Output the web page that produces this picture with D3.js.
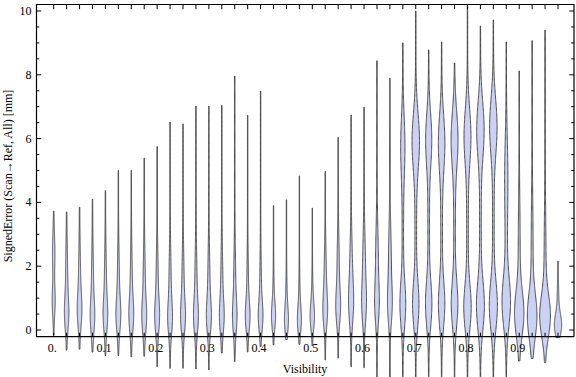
<!DOCTYPE html>
<html><head><meta charset="utf-8">
<script src="https://cdn.jsdelivr.net/npm/d3@7"></script>
<style>body{margin:0;background:#fff}svg{display:block}text{font-family:"Liberation Serif","Times New Roman",serif;fill:#000}</style>
</head><body><svg id="c" width="576" height="377"></svg>
<script>
// categories: visibility bins
const visibility = [0,0.025,0.05,0.075,0.1,0.125,0.15,0.175,0.2,0.225,0.25,0.275,0.3,0.325,0.35,0.375,0.4,0.425,0.45,0.475,0.5,0.525,0.55,0.575,0.6,0.625,0.65,0.675,0.7,0.725,0.75,0.775,0.8,0.825,0.85,0.875,0.9,0.925,0.95,0.975];
// range of each distribution (min / max signed error, mm)
const minVals = [-0.15,-0.63,-0.6,-0.69,-0.8,-0.8,-0.84,-0.82,-1.15,-1.2,-1.2,-1.22,-1.25,-0.72,-0.99,-0.69,-0.52,-0.47,-0.3,-0.45,-0.5,-0.94,-0.88,-1.15,-1.18,-1.6,-1.6,-1.6,-1.6,-1.6,-1.6,-1.6,-1.6,-1.6,-1.6,-1.6,-0.97,-0.89,-1.02,-0.24];
const maxVals = [3.73,3.7,3.85,4.1,4.37,5.0,5.0,5.39,5.75,6.52,6.46,7.02,7.02,7.04,7.96,6.73,7.49,3.9,4.08,4.83,3.82,4.97,6.04,6.74,6.98,8.44,7.89,9.0,10.0,8.78,9.03,8.37,10.17,9.53,9.72,9.03,8.12,9.07,9.4,2.16];
// lower density mode: centre, spread, relative width
const lowMode   = [0.9,0.5,0.6,0.4,0.45,0.45,0.45,0.4,0.4,0.35,0.4,0.4,0.4,0.4,0.4,0.42,0.42,0.42,0.3,0.3,0.42,0.6,0.7,0.8,0.8,0.8,0.8,0.8,0.8,0.8,0.8,0.8,0.7,0.75,0.75,0.85,0.5,0.42,0.42,0.15];
const lowSpread = [0.45,0.5,0.5,0.5,0.5,0.5,0.5,0.5,0.5,0.5,0.5,0.5,0.5,0.5,0.5,0.45,0.45,0.4,0.4,0.4,0.4,0.5,0.5,0.6,0.6,0.6,0.6,0.7,0.7,0.7,0.7,0.7,0.7,0.75,0.75,0.75,0.7,0.7,0.65,0.35];
const lowWidth  = [0.2,0.25,0.25,0.25,0.25,0.27,0.27,0.27,0.27,0.27,0.27,0.27,0.28,0.27,0.25,0.28,0.28,0.25,0.25,0.25,0.27,0.27,0.27,0.26,0.26,0.27,0.28,0.4,0.44,0.44,0.44,0.46,0.52,0.56,0.57,0.6,0.68,0.7,0.78,0.52];
// upper density mode: centre, spread, relative width
const highMode   = [2.4,1.6,1.5,1.4,1.4,1.4,1.4,1.4,1.4,1.4,1.4,1.4,1.4,1.4,1.4,1.3,1.3,1.0,1.0,1.0,1.0,1.6,1.8,1.8,2.0,2.2,2.2,5.8,5.95,6.0,5.9,6.0,6.1,6.3,6.4,5.0,3.0,3.0,2.6,1.0];
const highSpread = [0.6,1.0,1.0,1.0,1.0,1.0,1.0,1.0,1.0,1.0,1.0,1.0,1.0,1.0,1.0,0.9,0.9,0.6,0.6,0.6,0.6,0.9,1.0,1.0,1.0,1.0,1.0,0.9,0.85,0.8,0.85,0.85,0.85,0.85,0.85,1.1,1.2,1.2,1.2,0.5];
const highWidth  = [0.16,0.13,0.13,0.13,0.13,0.13,0.13,0.14,0.14,0.14,0.14,0.14,0.14,0.13,0.13,0.1,0.1,0.07,0.07,0.07,0.07,0.14,0.15,0.18,0.18,0.18,0.18,0.28,0.52,0.42,0.45,0.48,0.48,0.52,0.52,0.18,0.1,0.1,0.1,0.08];
// width of the waist between the two modes
const midWidth   = [0,0,0,0,0,0,0,0,0,0,0,0,0,0,0,0,0,0,0,0,0,0,0,0,0,0,0,0.08,0.1,0.1,0.1,0.1,0.1,0.1,0.1,0.12,0.04,0.04,0.04,0];
const xTickLabels = ["0.","0.1","0.2","0.3","0.4","0.5","0.6","0.7","0.8","0.9"];
const yTickValues = [0,2,4,6,8,10];

const svg = d3.select("#c");
const fLeft = 36.5, fRight = 574, fTop = 4.5, fBottom = 336.7;
const x = d3.scaleLinear().domain([0, 0.975]).range([53.7, 558.0]);
const y = d3.scaleLinear().domain([0, 10]).range([330, 11]);
const wScale = d3.scaleLinear().domain([0, 1]).range([0, 6.4]);

const gauss = (v, m, s) => Math.exp(-0.5 * ((v - m) / s) ** 2);

const area = d3.area().x0(d => d.x0).x1(d => d.x1).y(d => d.y).curve(d3.curveLinear);

const vg = svg.append("g");
visibility.forEach((vis, i) => {
  const cx = x(vis);
  const lo = minVals[i], hi = maxVals[i];
  const m1 = lowMode[i], s1 = lowSpread[i], w1 = lowWidth[i];
  const m2 = highMode[i], s2 = highSpread[i], w2 = highWidth[i];
  const wm = midWidth[i], mm = (m1 + m2) / 2, sm = Math.max(0.3, (m2 - m1) / 3);
  const pts = [];
  const n = 300;
  for (let k = 0; k <= n; k++) {
    const v = lo + (hi - lo) * k / n;
    const hw = wScale(0.03 + w1 * gauss(v, m1, s1) + w2 * gauss(v, m2, s2) + wm * gauss(v, mm, sm));
    pts.push({x0: cx - hw, x1: cx + hw, y: y(v)});
  }
  vg.append("path").attr("d", area(pts))
    .attr("fill", "#cad1f4")
    .attr("stroke", "#3c3c3c").attr("stroke-opacity", 0.9)
    .attr("stroke-width", 1).attr("stroke-linejoin", "round");
});

// frame
const fr = svg.append("g").attr("stroke", "#000").attr("fill", "none");
fr.append("path").attr("d", `M${fLeft},${fBottom}V${fTop}H${fRight}V${fBottom}`).attr("stroke-width", 1.2);
fr.append("line").attr("x1", fLeft).attr("x2", fRight).attr("y1", fBottom).attr("y2", fBottom).attr("stroke-width", 1.2);

// y ticks (left and right), major every 2, minor every 0.5
const minorY = d3.range(0, 10.01, 0.5);
minorY.forEach(v => {
  const major = Math.abs(v / 2 - Math.round(v / 2)) < 1e-6;
  const len = major ? 4.7 : 2.8;
  fr.append("line").attr("x1", fLeft).attr("x2", fLeft + len).attr("y1", y(v)).attr("y2", y(v)).attr("stroke-width", 1);
  fr.append("line").attr("x1", fRight).attr("x2", fRight - len).attr("y1", y(v)).attr("y2", y(v)).attr("stroke-width", 1);
});
svg.append("g").selectAll("text").data(yTickValues).join("text")
  .attr("x", fLeft - 5).attr("y", d => y(d)).attr("dy", "0.34em")
  .attr("text-anchor", "end").attr("font-size", 12).text(d => d);

// x ticks at every category, top and bottom
visibility.forEach(vis => {
  fr.append("line").attr("x1", x(vis)).attr("x2", x(vis)).attr("y1", fTop).attr("y2", fTop + 4.7).attr("stroke-width", 1);
  fr.append("line").attr("x1", x(vis)).attr("x2", x(vis)).attr("y1", fBottom).attr("y2", fBottom - 4).attr("stroke-width", 1);
});
svg.append("g").selectAll("text").data(xTickLabels).join("text")
  .attr("x", (d, i) => x(visibility[i * 4]) - 1.5).attr("y", 351.5)
  .attr("text-anchor", "middle").attr("font-size", 12).text(d => d);

// axis titles
svg.append("text").attr("x", 305).attr("y", 372.5).attr("text-anchor", "middle").attr("font-size", 12).text("Visibility");
svg.append("text").attr("transform", "translate(12,176) rotate(-90)").attr("text-anchor", "middle")
  .attr("font-size", 12).text("SignedError (Scan→Ref, All) [mm]");
</script></body></html>
